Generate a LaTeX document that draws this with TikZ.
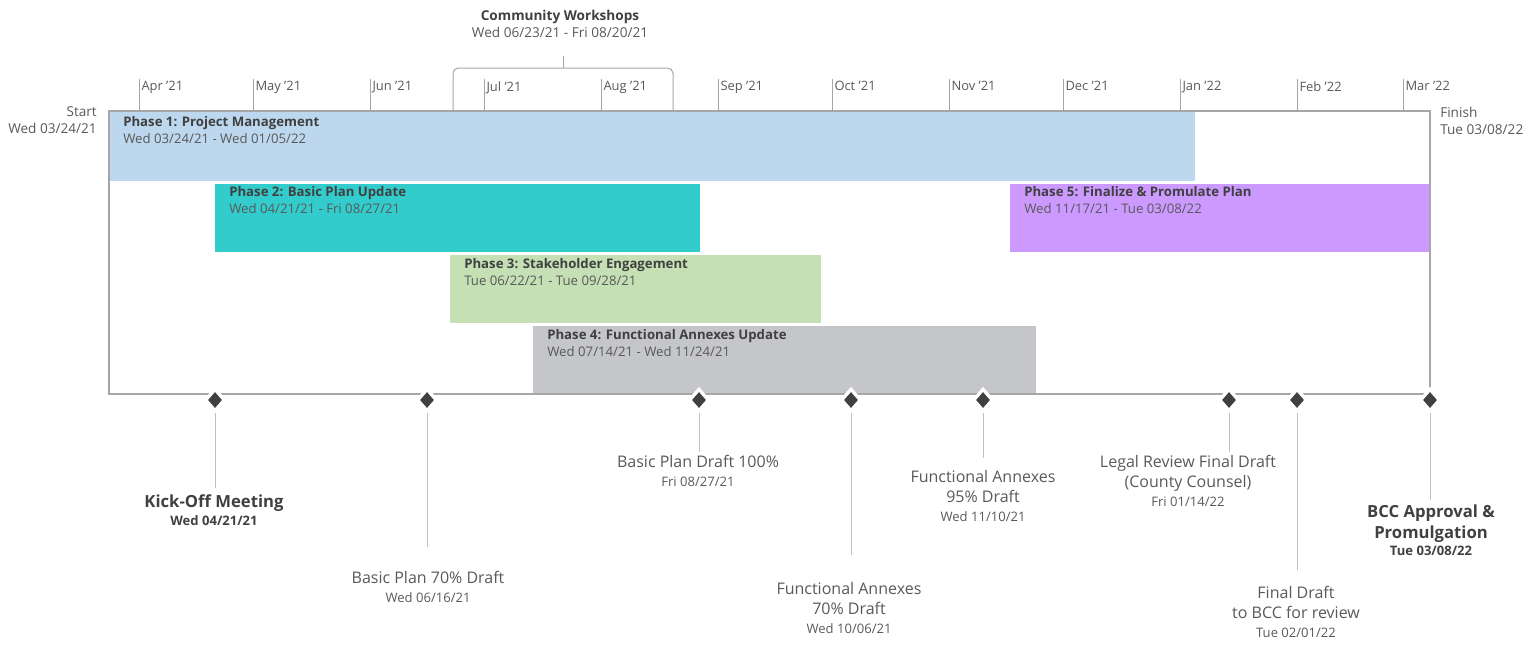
\documentclass[tikz,border=0pt]{standalone}
\usepackage{fontspec}
\setmainfont{Open Sans}
\usetikzlibrary{positioning,shapes.geometric}

\definecolor{phaseA}{HTML}{BDD7EE}
\definecolor{phaseB}{HTML}{33CCCC}
\definecolor{phaseC}{HTML}{C5E0B4}
\definecolor{phaseD}{HTML}{C5C6CA}
\definecolor{phaseE}{HTML}{CC99FF}
\definecolor{txtdark}{HTML}{404040}
\definecolor{txtmid}{HTML}{595959}
\definecolor{axisgray}{HTML}{A6A6A6}
\definecolor{stemgray}{HTML}{BFBFBF}
\definecolor{msfill}{HTML}{404040}

\newcommand{\msdate}[1]{{\fontsize{9.8}{11}\selectfont #1}}
\newcommand{\phtitle}[1]{{\color{txtdark}\bfseries #1}}

\begin{document}
\begin{tikzpicture}[x=0.75pt, y=-0.75pt,
    axis/.style={draw=axisgray, line width=1.1pt},
    tick/.style={draw=axisgray, line width=0.75pt},
    stem/.style={draw=stemgray, line width=0.75pt},
    month/.style={anchor=north west, inner sep=1.5pt, text=txtmid, font=\fontsize{9.7}{11}\selectfont},
    phase/.style={anchor=north west, inner sep=0pt, align=left, text=txtmid, font=\fontsize{9.9}{12.5}\selectfont},
    ms/.style={diamond, fill=msfill, draw=white, line width=2.5pt, minimum width=15pt, minimum height=17pt, inner sep=0pt},
    mslbl/.style={anchor=north, align=center, inner sep=1pt, text=txtmid, font=\fontsize{12}{15}\selectfont},
    mskey/.style={mslbl, text=txtdark, font=\fontsize{12.5}{15.5}\selectfont\bfseries},
    ends/.style={inner sep=0pt, text=txtmid, font=\fontsize{10.2}{12.75}\selectfont}
]
\useasboundingbox (0,0) rectangle (1534,644);

% phase bars
\fill[phaseA] (109,111) rectangle (1195,181);
\fill[phaseB] (215,184) rectangle (700,252);
\fill[phaseE] (1010,184) rectangle (1430,252);
\fill[phaseC] (450,255) rectangle (821,323);
\fill[phaseD] (533,326) rectangle (1036,394);

\node[phase] (p1) at (123,116.5) {\phtitle{Phase 1: Project Management}\\Wed 03/24/21 - Wed 01/05/22};
\node[phase] (p2) at (229,186.5) {\phtitle{Phase 2: Basic Plan Update}\\Wed 04/21/21 - Fri 08/27/21};
\node[phase] (p5) at (1024,186.5) {\phtitle{Phase 5: Finalize \& Promulate Plan}\\Wed 11/17/21 - Tue 03/08/22};
\node[phase] (p3) at (464,258.5) {\phtitle{Phase 3: Stakeholder Engagement}\\Tue 06/22/21 - Tue 09/28/21};
\node[phase] (p4) at (547,329.5) {\phtitle{Phase 4: Functional Annexes Update}\\Wed 07/14/21 - Wed 11/24/21};

% frame
\coordinate (tl) at (109,111);
\coordinate (br) at (1430,394);
\draw[axis] (tl) rectangle (br);

% months
\draw[tick] (139,111) -- (139,79) node[month] (apr) {Apr '21};
\draw[tick] (253,111) -- (253,79) node[month] (may) {May '21};
\draw[tick] (370,111) -- (370,79) node[month] (jun) {Jun '21};
\draw[tick] (484,111) -- (484,79) node[month] (jul) {Jul '21};
\draw[tick] (601,111) -- (601,79) node[month] (aug) {Aug '21};
\draw[tick] (718,111) -- (718,79) node[month] (sep) {Sep '21};
\draw[tick] (832,111) -- (832,79) node[month] (oct) {Oct '21};
\draw[tick] (949,111) -- (949,79) node[month] (nov) {Nov '21};
\draw[tick] (1063,111) -- (1063,79) node[month] (dec) {Dec '21};
\draw[tick] (1180,111) -- (1180,79) node[month] (jan) {Jan '22};
\draw[tick] (1297,111) -- (1297,79) node[month] (feb) {Feb '22};
\draw[tick] (1403,111) -- (1403,79) node[month] (mar) {Mar '22};

\node[ends, anchor=north east, align=right] (start) at (97,106.5) {Start\\Wed 03/24/21};
\node[ends, anchor=north west, align=left] (finish) at (1440,106.5) {Finish\\Tue 03/08/22};

% community workshops bracket
\node[ends, anchor=north, align=center] (cw) at (560,9.5) {\phtitle{Community Workshops}\\Wed 06/23/21 - Fri 08/20/21};
\coordinate (cwL) at (453,111);
\coordinate (cwR) at (673,111);
\coordinate (cwM) at (563,68);
\coordinate (cwT) at (563,56);
\draw[tick, rounded corners=4pt] (cwL) -- (cwL |- cwM) -- (cwR |- cwM) -- (cwR);
\draw[tick] (cwM) -- (cwT);

% milestones
\node[ms] (m1) at (215,400) {};
\node[ms] (m2) at (427,400) {};
\node[ms] (m3) at (699,400) {};
\node[ms] (m4) at (851,400) {};
\node[ms] (m5) at (983,400) {};
\node[ms] (m6) at (1229,400) {};
\node[ms] (m7) at (1297,400) {};
\node[ms] (m8) at (1430,400) {};

\coordinate (s1) at (215,488);
\coordinate (s2) at (427,547);
\coordinate (s3) at (699,452);
\coordinate (s4) at (851,555);
\coordinate (s5) at (983,458);
\coordinate (s6) at (1229,452);
\coordinate (s7) at (1297,570);
\coordinate (s8) at (1430,500);
\draw[stem] (m1.south) -- (s1);
\draw[stem] (m2.south) -- (s2);
\draw[stem] (m3.south) -- (s3);
\draw[stem] (m4.south) -- (s4);
\draw[stem] (m5.south) -- (s5);
\draw[stem] (m6.south) -- (s6);
\draw[stem] (m7.south) -- (s7);
\draw[stem] (m8.south) -- (s8);

\node[mskey] (l1) at (214,493.5) {Kick-Off Meeting\\[-2pt]\msdate{Wed 04/21/21}};
\node[mslbl] (l2) at (428,570) {Basic Plan 70\% Draft\\[-1pt]\msdate{Wed 06/16/21}};
\node[mslbl] (l3) at (698,454) {Basic Plan Draft 100\%\\[-1pt]\msdate{Fri 08/27/21}};
\node[mslbl] (l4) at (849,581) {Functional Annexes\\70\% Draft\\[-1pt]\msdate{Wed 10/06/21}};
\node[mslbl] (l5) at (983,469) {Functional Annexes\\95\% Draft\\[-1pt]\msdate{Wed 11/10/21}};
\node[mslbl] (l6) at (1188,454) {Legal Review Final Draft\\(County Counsel)\\[-1pt]\msdate{Fri 01/14/22}};
\node[mslbl] (l7) at (1296,585) {Final Draft\\to BCC for review\\[-1pt]\msdate{Tue 02/01/22}};
\node[mskey] (l8) at (1431,503.5) {BCC Approval \&\\Promulgation\\[-3pt]\msdate{Tue 03/08/22}};
\end{tikzpicture}
\end{document}
